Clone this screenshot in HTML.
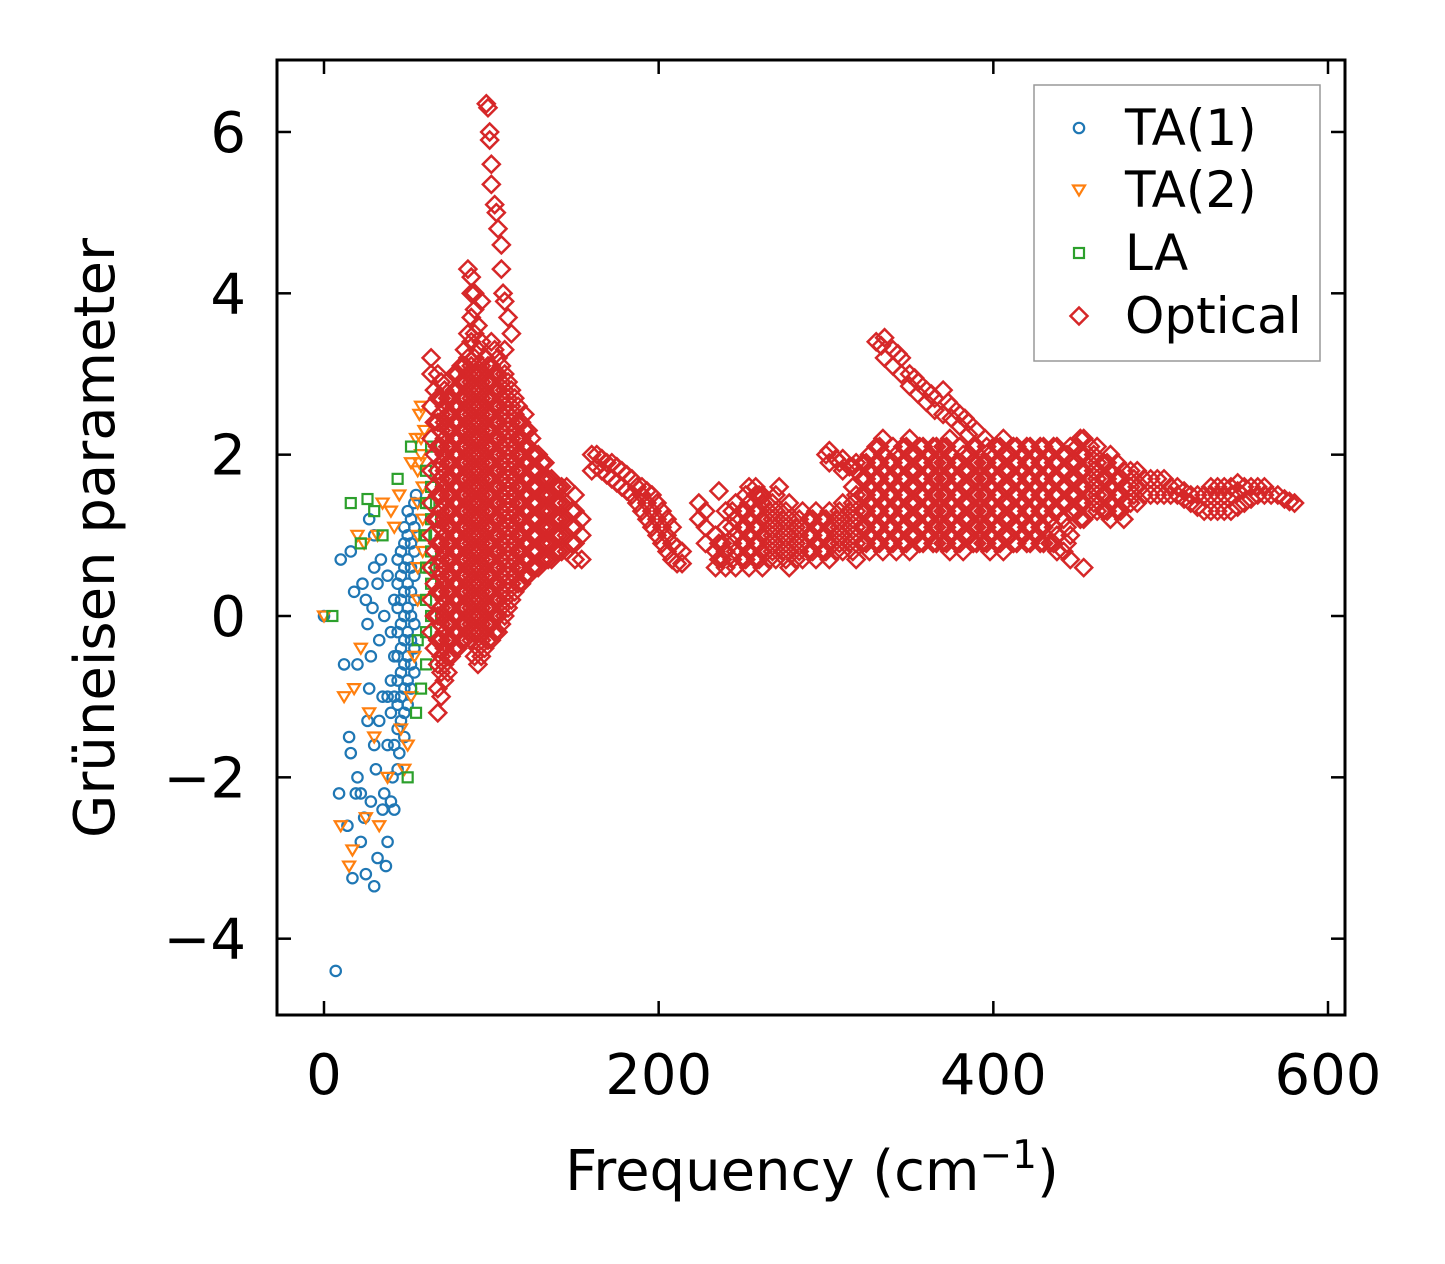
<!DOCTYPE html>
<html><head><meta charset="utf-8"><style>
body{margin:0;background:#fff;}
svg{display:block;font-family:"DejaVu Sans","Liberation Sans",sans-serif;}
</style></head><body>
<svg id="chart" width="1445" height="1264"></svg>
<script>
const xTicks=[0,200,400,600];
const yTicks=[-4,-2,0,2,4,6];
const yTickLabels=["\u22124","\u22122","0","2","4","6"];
const seriesNames=["TA(1)","TA(2)","LA","Optical"];
const ta1Points=[[0,0],[7,-4.4],[10,0.7],[12,-0.6],[15,-1.5],[16,-1.7],[16,0.8],[17,-3.25],[18,0.3],[20,-2.0],[20,-0.6],[22,-2.2],[22,-2.8],[23,0.4],[25,-3.2],[25,0.2],[26,-1.3],[27,-0.9],[28,-2.3],[30,-1.6],[30,-3.35],[31,-1.9],[32,-3.0],[32,0.4],[33,-0.3],[35,-2.4],[35,-1.0],[37,-3.1],[38,-2.8],[38,-1.6],[40,-2.3],[40,-1.2],[41,-2.0],[42,-0.5],[9,-2.2],[14,-2.6],[19,-2.2],[24,-2.5],[28,-0.5],[30,1.0],[34,0.7],[36,0.0],[38,0.5],[40,-0.2],[27,1.2],[30,0.6],[33,-1.3],[36,-2.2],[42,-2.4],[44,-1.9],[29,0.1],[26,-0.1],
[44,-1.4],[44,-1.1],[44,-0.8],[44,-0.5],[44,-0.2],[44,0.1],[44,0.4],[44,0.7],[46,-1.3],[46,-1.0],[46,-0.7],[46,-0.4],[46,-0.1],[46,0.2],[46,0.5],[46,0.8],[48,-1.2],[48,-0.9],[48,-0.6],[48,-0.3],[48,0.0],[48,0.3],[48,0.6],[48,0.9],[48,1.1],[50,-1.1],[50,-0.8],[50,-0.5],[50,-0.2],[50,0.1],[50,0.4],[50,0.7],[50,1.0],[50,1.3],[52,-0.9],[52,-0.6],[52,-0.3],[52,0.0],[52,0.3],[52,0.6],[52,0.9],[52,1.2],[54,-0.7],[54,-0.4],[54,-0.1],[54,0.2],[54,0.5],[54,0.8],[54,1.1],[54,1.4],[55,1.5],[42,-1.6],[45,-1.7],[48,-1.5],[40,-0.8],[38,-1.0],[42,-1.0],[42,0.2]];
const ta2Points=[[0,0],[10,-2.6],[12,-1.0],[15,-3.1],[17,-2.9],[20,1.0],[22,-0.4],[25,-2.5],[27,-1.2],[30,-1.5],[33,-2.6],[35,1.4],[38,-2.0],[40,1.3],[45,1.5],[48,-1.9],[50,-1.6],[52,1.9],[55,2.2],[57,2.5],[58,2.6],[56,1.8],[58,2.0],[60,2.3],[46,-1.4],[18,-0.9],[24,0.9],[32,1.0],[42,1.1],[56,0.2],[56,0.6],[56,1.0],[56,1.4],[59,1.6],[59,1.2],[59,0.8],[52,-1.0],[54,-0.5],[58,2.2],[57,1.9]];
const laPoints=[[5,0],[16,1.4],[22,0.9],[26,1.45],[30,1.3],[35,1.0],[44,1.7],[50,-2.0],[52,2.1],[55,-1.2],[60,1.0],[61,-0.6],[61,-0.2],[61,0.2],[61,0.6],[61,1.0],[61,1.4],[61,1.8],[64,2.1],[64,1.6],[64,1.2],[64,0.8],[64,0.4],[64,0.0],[58,-0.9],[56,-0.3],[63,1.4],[63,0.6]];
const opticalColumns=[
[64,[-0.2,0.2,0.6,1.0,1.4,1.8,2.2,2.6,3.0,3.2]],
[68,[-1.2,-0.9,-0.6,-0.3,0,0.3,0.6,0.9,1.2,1.5,1.8,2.1,2.4,2.7,3.0]],
[72,[-0.8,-0.6,-0.4,-0.2,0,0.2,0.4,0.6,0.8,1.0,1.2,1.4,1.6,1.8,2.0,2.2,2.4,2.6,2.8]],
[76,[-0.5,-0.3,-0.1,0.1,0.3,0.5,0.7,0.9,1.1,1.3,1.5,1.7,1.9,2.1,2.3,2.5,2.7]],
[80,[-0.4,-0.2,0,0.2,0.4,0.6,0.8,1.0,1.2,1.4,1.6,1.8,2.0,2.2,2.4,2.6,2.8,3.0]],
[84,[-0.3,-0.1,0.1,0.3,0.5,0.7,0.9,1.1,1.3,1.5,1.7,1.9,2.1,2.3,2.5,2.7,2.9,3.1,3.3]],
[88,[-0.3,-0.1,0.1,0.3,0.5,0.7,0.9,1.1,1.3,1.5,1.7,1.9,2.1,2.3,2.5,2.7,2.9,3.1,3.4,3.7,4.0]],
[92,[-0.6,-0.4,-0.2,0,0.2,0.4,0.6,0.8,1.0,1.2,1.4,1.6,1.8,2.0,2.2,2.4,2.6,2.8,3.0,3.3,3.6]],
[96,[-0.4,-0.2,0,0.2,0.4,0.6,0.8,1.0,1.2,1.4,1.6,1.8,2.0,2.2,2.4,2.6,2.8,3.0,3.2]],
[100,[-0.3,-0.1,0.1,0.3,0.5,0.7,0.9,1.1,1.3,1.5,1.7,1.9,2.1,2.3,2.5,2.7,2.9,3.1,3.4]],
[104,[-0.2,0,0.2,0.4,0.6,0.8,1.0,1.2,1.4,1.6,1.8,2.0,2.2,2.4,2.6,2.8,3.0,3.2]],
[108,[0,0.2,0.4,0.6,0.8,1.0,1.2,1.4,1.6,1.8,2.0,2.2,2.4,2.6,2.8,3.0,3.3]],
[112,[0.2,0.4,0.6,0.8,1.0,1.2,1.4,1.6,1.8,2.0,2.2,2.4,2.6,2.8]],
[116,[0.4,0.6,0.8,1.0,1.2,1.4,1.6,1.8,2.0,2.2,2.4,2.6]],
[120,[0.5,0.7,0.9,1.1,1.3,1.5,1.7,1.9,2.1,2.3,2.5]],
[124,[0.6,0.8,1.0,1.2,1.4,1.6,1.8,2.0,2.2]],
[128,[0.6,0.8,1.0,1.2,1.4,1.6,1.8,2.0]],
[132,[0.7,0.9,1.1,1.3,1.5,1.7,1.9]],
[136,[0.7,0.9,1.1,1.3,1.5,1.7]],
[140,[0.8,1.0,1.2,1.4,1.6]],
[145,[0.8,1.0,1.2,1.4,1.6]],
[150,[0.7,0.9,1.1,1.3,1.5]],
[154,[0.7,1.0,1.2]],
[160,[1.8,2.0]],[163,[1.85,2.0]],[166,[1.8,1.95]],[169,[1.75,1.9]],[172,[1.7,1.9]],[175,[1.65,1.85]],[178,[1.6,1.8]],[181,[1.55,1.75]],[184,[1.5,1.7]],[187,[1.4,1.6]],[190,[1.3,1.5,1.6]],[193,[1.2,1.4,1.55]],[196,[1.1,1.3,1.5]],[199,[1.0,1.2,1.4]],[202,[0.9,1.1,1.3]],[205,[0.8,1.0,1.2]],[208,[0.7,0.9,1.1]],[211,[0.65,0.85]],[214,[0.65,0.8]],
[224,[1.2,1.4]],[228,[0.9,1.1,1.3]],
[234,[0.6,0.8,1.0]],[240,[0.6,0.8,1.1,1.3]],[246,[0.6,0.8,1.0,1.2,1.4]],[254,[0.6,0.8,1.0,1.2,1.4,1.6]],[262,[0.6,0.8,1.0,1.2,1.4,1.5]],[270,[0.7,0.9,1.1,1.3,1.5]],[278,[0.6,0.8,1.0,1.2,1.4]],[286,[0.7,0.9,1.1,1.3]],[294,[0.7,0.9,1.1,1.3]],
[302,[0.7,0.9,1.1,1.3,1.9,2.05]],[310,[0.8,1.0,1.2,1.4,1.8,1.95]],[318,[0.7,0.9,1.1,1.3,1.5,1.8,1.9]],[326,[0.8,1.0,1.2,1.4,1.6,1.8,2.0]],[334,[0.8,1.0,1.2,1.4,1.6,1.8,2.0,2.2]],[342,[0.8,1.0,1.2,1.4,1.6,1.8,2.0]],[350,[0.8,1.0,1.2,1.4,1.6,1.8,2.0,2.2]],[358,[0.9,1.1,1.3,1.5,1.7,1.9,2.1]],[366,[0.9,1.1,1.3,1.5,1.7,1.9,2.1]],[374,[0.8,1.0,1.2,1.4,1.6,1.8,2.0,2.2]],[382,[0.8,1.0,1.2,1.4,1.6,1.8,2.0]],[390,[0.9,1.1,1.3,1.5,1.7,1.9,2.1]],[398,[0.8,1.0,1.2,1.4,1.6,1.8,2.0]],[406,[0.8,1.0,1.2,1.4,1.6,1.8,2.0,2.2]],[414,[0.9,1.1,1.3,1.5,1.7,1.9,2.1]],[422,[0.9,1.1,1.3,1.5,1.7,1.9,2.1]],[430,[0.9,1.1,1.3,1.5,1.7,1.9,2.1]],[438,[0.8,1.0,1.3,1.5,1.7,1.9,2.1]],[446,[0.7,1.0,1.3,1.5,1.7,1.9,2.1]],[454,[0.6,1.2,1.4,1.6,1.8,2.0,2.2]],[462,[1.3,1.5,1.7,1.9,2.1]],[470,[1.2,1.4,1.6,1.8,2.0]],[478,[1.2,1.4,1.6,1.8]],[486,[1.4,1.6,1.8]],[494,[1.5,1.7]],[502,[1.5,1.7]],[510,[1.5,1.6]],[518,[1.4,1.5]],[526,[1.3,1.5]],[534,[1.3,1.5,1.6]],[542,[1.3,1.5,1.6]],[550,[1.4,1.6]],[558,[1.5,1.6]],[566,[1.5]],[574,[1.45]],[580,[1.4]],
[238,[0.7,0.9]],[250,[0.7,0.9,1.1,1.3]],[258,[0.7,0.9,1.1,1.3,1.5]],[266,[0.7,0.9,1.1,1.3]],[274,[0.8,1.0,1.2]],[282,[0.7,0.9,1.1]],[290,[0.8,1.0,1.2]],[298,[0.8,1.0,1.2]],[306,[0.8,1.0,1.2,1.95]],[314,[0.9,1.1,1.3,1.85]],[322,[0.9,1.1,1.3,1.5,1.7,1.9]],[330,[0.9,1.1,1.3,1.5,1.7,1.9,2.1]],[338,[0.9,1.1,1.3,1.5,1.7,1.9]],[346,[0.9,1.1,1.3,1.5,1.7,1.9,2.1]],[354,[1.0,1.2,1.4,1.6,1.8,2.0]],[362,[1.0,1.2,1.4,1.6,1.8,2.0]],[370,[0.9,1.1,1.3,1.5,1.7,1.9,2.1]],[378,[0.9,1.1,1.3,1.5,1.7,1.9]],[386,[1.0,1.2,1.4,1.6,1.8,2.0]],[394,[0.9,1.1,1.3,1.5,1.7,1.9]],[402,[0.9,1.1,1.3,1.5,1.7,1.9,2.1]],[410,[1.0,1.2,1.4,1.6,1.8,2.0]],[418,[1.0,1.2,1.4,1.6,1.8,2.0]],[426,[1.0,1.2,1.4,1.6,1.8,2.0]],[434,[0.9,1.2,1.4,1.6,1.8,2.0]],[442,[0.8,1.2,1.4,1.6,1.8,2.0]],[450,[1.3,1.5,1.7,1.9,2.1]],[458,[1.3,1.5,1.7,1.9,2.1]],[466,[1.3,1.5,1.7,1.9]],[474,[1.3,1.5,1.7,1.9]],[482,[1.4,1.6,1.8]],[490,[1.5,1.7]],[498,[1.5,1.7]],[506,[1.5,1.6]],[514,[1.45,1.55]],[522,[1.35,1.5]],[530,[1.3,1.5,1.6]],[538,[1.3,1.5,1.6]],[546,[1.35,1.55,1.65]],[554,[1.45,1.6]],[562,[1.5,1.6]],[570,[1.5]],[577,[1.42]]
];
const opticalFillColumns=[
[66,[-0.4,0,0.4,0.8,1.2,1.6,2.0,2.4,2.8]],
[70,[-1.0,-0.7,-0.5,-0.3,-0.1,0.1,0.3,0.5,0.7,0.9,1.1,1.3,1.5,1.7,1.9,2.1,2.3,2.5,2.7,2.9]],
[74,[-0.7,-0.5,-0.3,-0.1,0.1,0.3,0.5,0.7,0.9,1.1,1.3,1.5,1.7,1.9,2.1,2.3,2.5,2.7]],
[78,[-0.4,-0.2,0,0.2,0.4,0.6,0.8,1.0,1.2,1.4,1.6,1.8,2.0,2.2,2.4,2.6,2.8,3.0]],
[82,[-0.3,-0.1,0.1,0.3,0.5,0.7,0.9,1.1,1.3,1.5,1.7,1.9,2.1,2.3,2.5,2.7,2.9,3.1]],
[86,[-0.2,0,0.2,0.4,0.6,0.8,1.0,1.2,1.4,1.6,1.8,2.0,2.2,2.4,2.6,2.8,3.0,3.2,3.5]],
[90,[-0.5,-0.2,0,0.2,0.4,0.6,0.8,1.0,1.2,1.4,1.6,1.8,2.0,2.2,2.4,2.6,2.8,3.0,3.2,3.5,3.8]],
[94,[-0.5,-0.3,-0.1,0.1,0.3,0.5,0.7,0.9,1.1,1.3,1.5,1.7,1.9,2.1,2.3,2.5,2.7,2.9,3.1,3.4]],
[98,[-0.3,-0.1,0.1,0.3,0.5,0.7,0.9,1.1,1.3,1.5,1.7,1.9,2.1,2.3,2.5,2.7,2.9,3.1]],
[102,[-0.2,0,0.2,0.4,0.6,0.8,1.0,1.2,1.4,1.6,1.8,2.0,2.2,2.4,2.6,2.8,3.0,3.3]],
[106,[-0.1,0.1,0.3,0.5,0.7,0.9,1.1,1.3,1.5,1.7,1.9,2.1,2.3,2.5,2.7,2.9,3.1]],
[110,[0.1,0.3,0.5,0.7,0.9,1.1,1.3,1.5,1.7,1.9,2.1,2.3,2.5,2.7,2.9]],
[114,[0.3,0.5,0.7,0.9,1.1,1.3,1.5,1.7,1.9,2.1,2.3,2.5,2.7]],
[118,[0.4,0.6,0.8,1.0,1.2,1.4,1.6,1.8,2.0,2.2,2.4]],
[122,[0.5,0.7,0.9,1.1,1.3,1.5,1.7,1.9,2.1,2.3]],
[126,[0.6,0.8,1.0,1.2,1.4,1.6,1.8,2.0]],
[130,[0.7,0.9,1.1,1.3,1.5,1.7,1.9]],
[134,[0.7,0.9,1.1,1.3,1.5,1.7]],
[138,[0.8,1.0,1.2,1.4,1.6]],
[142,[0.8,1.0,1.2,1.4,1.6]],
[148,[0.9,1.1,1.3]],
[236,[0.7,0.9]],[244,[0.7,0.9,1.1,1.3]],[252,[0.7,0.9,1.1,1.3,1.5]],[260,[0.7,0.9,1.1,1.3,1.5]],[268,[0.8,1.0,1.2,1.4]],[276,[0.7,0.9,1.1,1.3]],[284,[0.8,1.0,1.2]],[292,[0.8,1.0,1.2]],[300,[0.8,1.0,1.2,2.0]],[308,[0.9,1.1,1.3,1.9]],[316,[0.8,1.0,1.2,1.4,1.6,1.85]],[324,[0.9,1.1,1.3,1.5,1.7,1.9]],[332,[0.9,1.1,1.3,1.5,1.7,1.9,2.1]],[340,[0.9,1.1,1.3,1.5,1.7,1.9,2.1]],[348,[0.9,1.1,1.3,1.5,1.7,1.9,2.1]],[356,[0.9,1.1,1.3,1.5,1.7,1.9,2.1]],[364,[0.9,1.1,1.3,1.5,1.7,1.9,2.1]],[372,[0.9,1.1,1.3,1.5,1.7,1.9,2.1]],[380,[0.9,1.1,1.3,1.5,1.7,1.9,2.1]],[388,[0.9,1.1,1.3,1.5,1.7,1.9,2.1]],[396,[0.9,1.1,1.3,1.5,1.7,1.9,2.1]],[404,[0.9,1.1,1.3,1.5,1.7,1.9,2.1]],[412,[0.9,1.1,1.3,1.5,1.7,1.9,2.1]],[420,[0.9,1.1,1.3,1.5,1.7,1.9,2.1]],[428,[0.9,1.1,1.3,1.5,1.7,1.9,2.1]],[436,[0.9,1.1,1.3,1.5,1.7,1.9,2.1]],[444,[0.9,1.1,1.4,1.6,1.8,2.0]],[452,[1.2,1.4,1.6,1.8,2.0,2.2]],[460,[1.4,1.6,1.8,2.0]],[468,[1.3,1.5,1.7,1.9]],[476,[1.3,1.5,1.7]],[484,[1.5,1.7]]
];
const opticalExtra=[[97,6.35],[98,6.3],[99,6.0],[99,5.9],[100,5.6],[100,5.35],[102,5.1],[103,5.0],[104,4.8],[106,4.6],[106,4.3],[107,4.0],[86,4.3],[88,4.2],[90,4.0],[110,3.7],[112,3.5],[108,3.9],[94,3.9],
[330,3.4],[335,3.45],[340,3.3],[345,3.2],[350,3.0],[355,2.9],[360,2.8],[365,2.7],[370,2.8],[375,2.6],[380,2.5],[385,2.4],[390,2.3],[333,3.35],[343,3.25],[353,2.95],[363,2.75],[373,2.65],[383,2.45],
[335,3.2],[345,3.0],[355,2.75],[365,2.55],[375,2.45],[385,2.25],[395,2.2],[340,3.1],[350,2.85],[360,2.65],[370,2.5],[380,2.35],[272,1.6],[236,1.55],[258,1.6]];

const svg=document.getElementById('chart');
const NS='http://www.w3.org/2000/svg';
const L=277,R=1345,T=60,B=1015;
const X=v=>324+(v-0)*(1328-324)/600;
const Y=v=>616-v*80.67;
function mk(tag,attrs,parent){const e=document.createElementNS(NS,tag);for(const k in attrs)e.setAttribute(k,attrs[k]);(parent||svg).appendChild(e);return e;}
const colors=["#1f77b4","#ff7f0e","#2ca02c","#d62728"];
function marker(type,cx,cy,g){
  let e;
  if(type===0){e=mk('circle',{cx:cx,cy:cy,r:5.2,fill:'none',stroke:colors[0],'stroke-width':2.2},g);}
  else if(type===1){e=mk('polygon',{points:`${cx-6},${cy-4.5} ${cx+6},${cy-4.5} ${cx},${cy+5.5}`,fill:'none',stroke:colors[1],'stroke-width':2.2},g);}
  else if(type===2){e=mk('rect',{x:cx-5,y:cy-5,width:10,height:10,fill:'none',stroke:colors[2],'stroke-width':2.2},g);}
  else {e=mk('polygon',{points:`${cx},${cy-8.5} ${cx+8.5},${cy} ${cx},${cy+8.5} ${cx-8.5},${cy}`,fill:'none',stroke:colors[3],'stroke-width':2.5},g);}
  return e;
}
const plot=mk('g',{});


const sets=[ta1Points,ta2Points,laPoints];
const names=['ta1-series','ta2-series','la-series'];
sets.forEach((pts,i)=>{
  const g=mk('g',{},plot);
  
  
  pts.forEach(p=>{const m=marker(i,X(p[0]),Y(p[1]),g);
    
    });
});
const og=mk('g',{},plot);


[opticalColumns,opticalFillColumns].forEach(cols=>cols.forEach(c=>c[1].forEach(v=>{const m=marker(3,X(c[0]),Y(v),og);
  
  })));
opticalExtra.forEach(p=>{const m=marker(3,X(p[0]),Y(p[1]),og);
  
  });

const frame=mk('rect',{x:L,y:T,width:R-L,height:B-T,fill:'none',stroke:'#000','stroke-width':3});


xTicks.forEach(v=>{
  const x=X(v);
  mk('line',{x1:x,y1:B,x2:x,y2:B-14,stroke:'#000','stroke-width':2.5});
  mk('line',{x1:x,y1:T,x2:x,y2:T+14,stroke:'#000','stroke-width':2.5});
  const t=mk('text',{x:x,y:1094,'font-size':56,'text-anchor':'middle',fill:'#000'});
  t.textContent=String(v);
  
  
});
yTicks.forEach((v,i)=>{
  const y=Y(v);
  mk('line',{x1:L,y1:y,x2:L+14,y2:y,stroke:'#000','stroke-width':2.5});
  mk('line',{x1:R,y1:y,x2:R-14,y2:y,stroke:'#000','stroke-width':2.5});
  const t=mk('text',{x:246,y:y+20,'font-size':56,'text-anchor':'end',fill:'#000'});
  t.textContent=yTickLabels[i];
  
  
});
const xl=mk('text',{x:812,y:1190,'font-size':56,'text-anchor':'middle',fill:'#000'});
xl.innerHTML='Frequency (cm<tspan dy="-22" font-size="39">\u22121</tspan><tspan dy="22">)</tspan>';


const yl=mk('text',{x:0,y:0,'font-size':56,'text-anchor':'middle',fill:'#000',transform:'translate(114,538) rotate(-90)'});
yl.textContent='Grüneisen parameter';


const lg=mk('g',{});


mk('rect',{x:1034,y:85,width:286,height:276,fill:'#fff',stroke:'#999','stroke-width':1.5},lg);
const ly=[128,190,253,316];
seriesNames.forEach((n,i)=>{
  const e=mk('g',{},lg);
  
  
  marker(i,1079,ly[i],e);
  const t=mk('text',{x:1125,y:ly[i]+17,'font-size':50,fill:'#000'},e);
  t.textContent=n;
});
</script>
</body></html>
